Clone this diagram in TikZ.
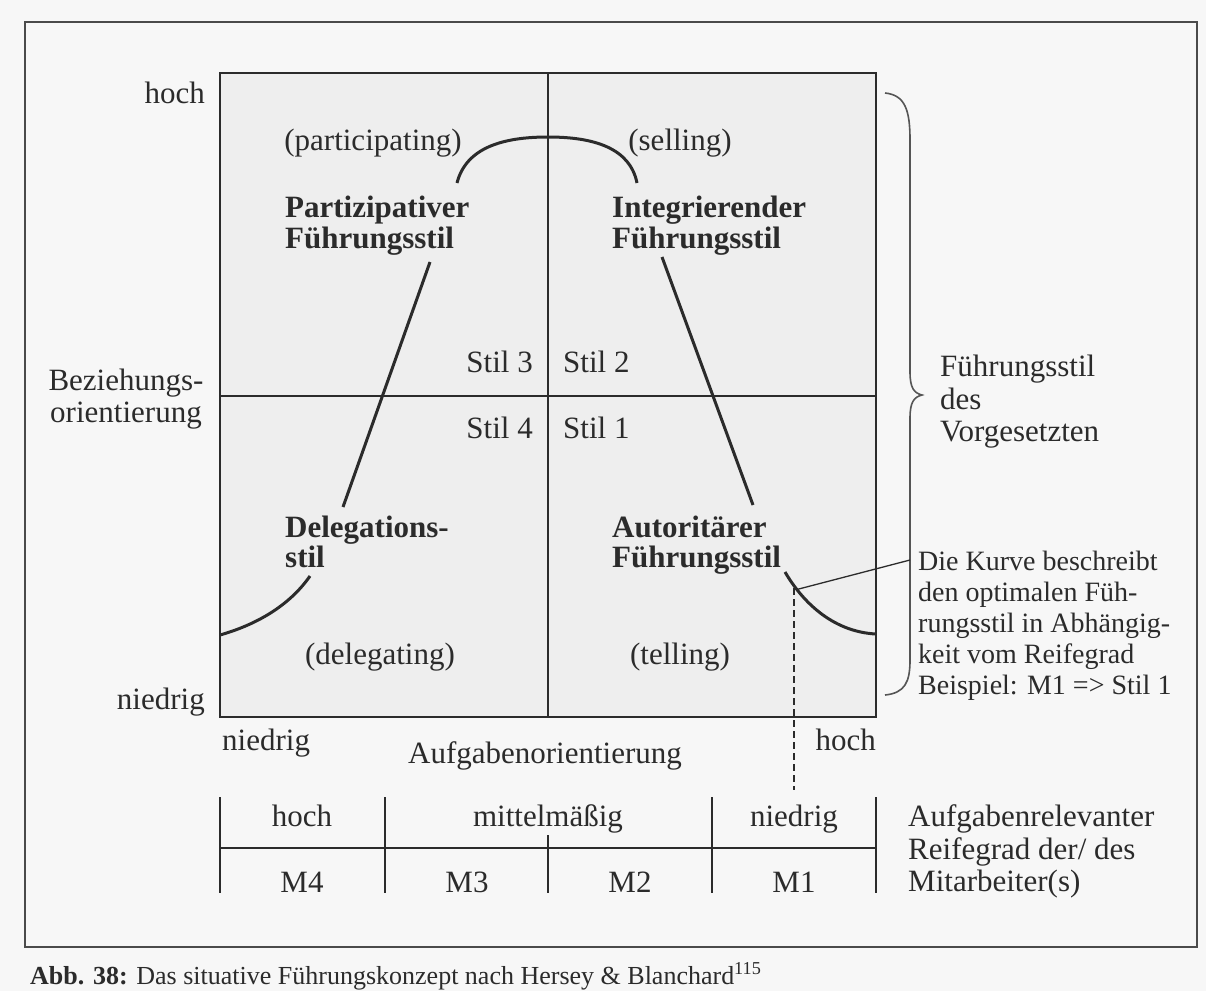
\documentclass[tikz,border=0pt]{standalone}
\usepackage{fontspec}
\setmainfont{Liberation Serif}
\definecolor{ink}{HTML}{2B2B2B}
\definecolor{paper}{HTML}{F7F7F7}
\definecolor{field}{HTML}{EEEEEE}
\begin{document}
\begin{tikzpicture}[x=1pt,y=-1pt,
  lbl/.style={inner sep=0pt, text=ink, font=\fontsize{31}{32}\selectfont, anchor=base},
  lblw/.style={lbl, anchor=base west},
  lble/.style={lbl, anchor=base east},
  bld/.style={lblw, font=\fontsize{31}{32}\selectfont\bfseries},
  note/.style={inner sep=0pt, text=ink, font=\fontsize{28}{30}\selectfont, anchor=base west},
  grid/.style={draw=ink, line width=2.4pt},
  curveline/.style={draw=ink, line width=3pt},
  thin/.style={draw=ink, line width=1.3pt}]
\path[use as bounding box, fill=paper] (0,0) rectangle (1206,991);
% outer frame
\draw[draw=ink!85, line width=2.2pt] (25,22) rectangle (1197,947);
% main square
\coordinate (sqNW) at (220,73);
\coordinate (sqSE) at (876,717);
\coordinate (midT) at (548,73);
\coordinate (midB) at (548,717);
\coordinate (midL) at (220,396);
\coordinate (midR) at (876,396);
\path[fill=field] (sqNW) rectangle (sqSE);
\draw[grid] (sqNW) rectangle (sqSE);
\draw[grid] (midT) -- (midB);
\draw[grid] (midL) -- (midR);
% axis labels
\node[lble] (yhi) at (205,103) {hoch};
\node[lble] (ylo) at (205,709) {niedrig};
\node[lbl] (ylab1) at (126,390) {Beziehungs-};
\node[lbl] (ylab2) at (126,422) {orientierung};
\node[lblw] (xlo) at (222,750) {niedrig};
\node[lble] (xhi) at (876,750) {hoch};
\node[lbl] (xlab) at (545,763) {Aufgabenorientierung};
% quadrant texts
\node[lbl] (part) at (373,150) {(participating)};
\node[lbl] (sell) at (680,150) {(selling)};
\node[bld] (p1) at (285,217) {Partizipativer};
\node[bld] (p2) at (285,248) {Führungsstil};
\node[bld] (i1) at (612,217) {Integrierender};
\node[bld] (i2) at (612,248) {Führungsstil};
\node[lble] (s3) at (533,372) {Stil 3};
\node[lblw] (s2) at (563,372) {Stil 2};
\node[lble] (s4) at (533,438) {Stil 4};
\node[lblw] (s1) at (563,438) {Stil 1};
\node[bld] (d1) at (285,537) {Delegations-};
\node[bld] (d2) at (285,567) {stil};
\node[bld] (a1) at (612,537) {Autoritärer};
\node[bld] (a2) at (612,567) {Führungsstil};
\node[lbl] (dele) at (380,664) {(delegating)};
\node[lbl] (tell) at (680,664) {(telling)};
% the curve
\draw[curveline] (220,635) .. controls (262,623) and (292,602) .. (310,576);
\draw[curveline] (343,507) -- (430,262);
\draw[curveline] (457,183) .. controls (466,148) and (502,137) .. (548,137)
                 .. controls (594,137) and (630,148) .. (637,183);
\draw[curveline] (662,257) -- (753,505);
\draw[curveline] (785,572) .. controls (805,606) and (836,632) .. (876,634)
   coordinate[pos=0.18] (annpt) coordinate[pos=0.1] (dashpt);
% brace
\draw[draw=ink!80, line width=1.6pt] (885,93) .. controls (905,95) and (910,110) .. (910,140)
   -- (910,372) .. controls (910,388) and (914,393) .. (922,395)
   .. controls (914,397) and (910,402) .. (910,418) -- (910,660)
   .. controls (910,682) and (905,693) .. (885,695);
\node[lblw] (f1) at (940,376) {Führungsstil};
\node[lblw] (f2) at (940,409) {des};
\node[lblw] (f3) at (940,441) {Vorgesetzten};
% annotation
\coordinate (annend) at (910,560);
\draw[thin] (annpt) -- (annend);
\node[note] (n1) at (918,570) {Die Kurve beschreibt};
\node[note] (n2) at (918,601) {den optimalen Füh-};
\node[note] (n3) at (918,632) {rungsstil in Abhängig-};
\node[note] (n4) at (918,663) {keit vom Reifegrad};
\node[note] (n5) at (918,694) {Beispiel: M1 => Stil 1};
% dashed marker
\coordinate (dashend) at (794,790);
\draw[thin, dashed, dash pattern=on 7pt off 4pt] (794,588) -- (dashend);
% table
\foreach \x in {220,385,712,876} \draw[grid, line width=2pt] (\x,797) -- (\x,893);
\draw[grid, line width=2pt] (548,835) -- (548,893);
\draw[grid, line width=2pt] (220,848) -- (876,848);
\node[lbl] (t1) at (302,826) {hoch};
\node[lbl] (t2) at (548,826) {mittelmäßig};
\node[lbl] (t3) at (794,826) {niedrig};
\node[lbl] (m4) at (302,892) {M4};
\node[lbl] (m3) at (467,892) {M3};
\node[lbl] (m2) at (630,892) {M2};
\node[lbl] (m1) at (794,892) {M1};
\node[lblw] (r1) at (908,826) {Aufgabenrelevanter};
\node[lblw] (r2) at (908,859) {Reifegrad der/ des};
\node[lblw] (r3) at (908,891) {Mitarbeiter(s)};
% caption
\node[inner sep=0pt, text=ink, font=\fontsize{26}{28}\selectfont, anchor=base west] (cap) at (30,984)
  {\textbf{Abb. 38:} Das situative Führungskonzept nach Hersey \& Blanchard\textsuperscript{115}};
\end{tikzpicture}
\end{document}
